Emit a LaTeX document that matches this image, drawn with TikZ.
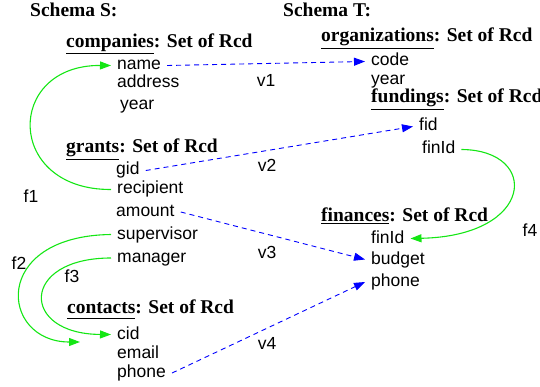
\documentclass[tikz,border=0pt]{standalone}
\usepackage{fontspec}
\setmainfont{Liberation Serif}
\setsansfont{Liberation Sans}
\usetikzlibrary{arrows.meta}
\definecolor{fgreen}{RGB}{20,230,20}
\tikzset{
    head/.style = {anchor=base west, inner sep=0pt,
        font=\fontsize{19.5}{22}\selectfont\bfseries},
    attr/.style = {anchor=base west, inner xsep=6pt, inner ysep=0pt, xshift=-6pt,
        text height=9pt, text depth=0pt, font=\fontsize{17.5}{20}\sffamily},
    lbl/.style = {inner sep=0pt, font=\fontsize{17.5}{20}\sffamily},
    map/.style = {draw=blue, line width=0.9pt, dash pattern=on 5pt off 4pt,
        -{Triangle[length=11pt,width=8pt]}},
    fun/.style = {draw=fgreen, line width=1.1pt,
        -{Triangle[length=11pt,width=8pt]}}
}

\begin{document}
\begin{tikzpicture}[x=1pt, y=-1pt]
    \useasboundingbox (0,0) rectangle (540,387);
    % schema S
    \node [head] (schemaS) at (30,17) {Schema S:};
    \node [head] (companies) at (66,48) {\underline{companies}: Set of Rcd};
    \node [attr] (cname) at (117,70) {name};
    \node [attr] (caddress) at (117,88) {address};
    \node [attr] (cyear) at (120,110) {year};
    \node [head] (grants) at (66,153) {\underline{grants}: Set of Rcd};
    \node [attr] (gid) at (116,175) {gid};
    \node [attr] (grecipient) at (117,194) {recipient};
    \node [attr] (gamount) at (116,216.5) {amount};
    \node [attr] (gsupervisor) at (117,239) {supervisor};
    \node [attr] (gmanager) at (117,262.5) {manager};
    \node [head] (contacts) at (67,313) {\underline{\vphantom{p}contacts}: Set of Rcd};
    \node [attr] (cid) at (117,339) {cid};
    \node [attr] (cemail) at (117,358) {email};
    \node [attr] (cphone) at (117,377.5) {phone};
    % schema T
    \node [head] (schemaT) at (283,17) {Schema T:};
    \node [head] (organizations) at (321,42) {\underline{organizations}: Set of Rcd};
    \node [attr] (ocode) at (371,66) {code};
    \node [attr] (oyear) at (371,85) {year};
    \node [head] (fundings) at (371,103) {\underline{fundings}: Set of Rcd};
    \node [attr] (fid) at (419,131) {fid};
    \node [attr] (ffinid) at (422,154) {finId};
    \node [head] (finances) at (321,222) {\underline{finances}: Set of Rcd};
    \node [attr] (nfinid) at (371,243) {finId};
    \node [attr] (nbudget) at (371,264) {budget};
    \node [attr] (nphone) at (371,286.5) {phone};
    % value correspondences
    \draw [map] (cname.east) -- (ocode.west);
    \draw [map] (gid.east) -- (fid.west);
    \draw [map] (gamount.east) -- (nbudget.west);
    \draw [map] (cphone.east) -- (nphone.west);
    \node [lbl] (v1) at (266,80) {v1};
    \node [lbl] (v2) at (267,165) {v2};
    \node [lbl] (v3) at (267,252) {v3};
    \node [lbl] (v4) at (267,343) {v4};
    % foreign keys
    \coordinate (f2end) at (80,342);
    \draw [fun] (grecipient.west) .. controls (5,190) and (5,65) .. (cname.west);
    \draw [fun] (gsupervisor.west) .. controls (-10,236) and (0,342) .. (f2end);
    \draw [fun] (gmanager.west) .. controls (20,258) and (20,334) .. (cid.west);
    \draw [fun] (ffinid.east) .. controls (540,150) and (535,236) .. (nfinid.east);
    \node [lbl] (f1) at (31,196) {f1};
    \node [lbl] (f2) at (19,263) {f2};
    \node [lbl] (f3) at (72,276) {f3};
    \node [lbl] (f4) at (530,230) {f4};
\end{tikzpicture}
\end{document}
